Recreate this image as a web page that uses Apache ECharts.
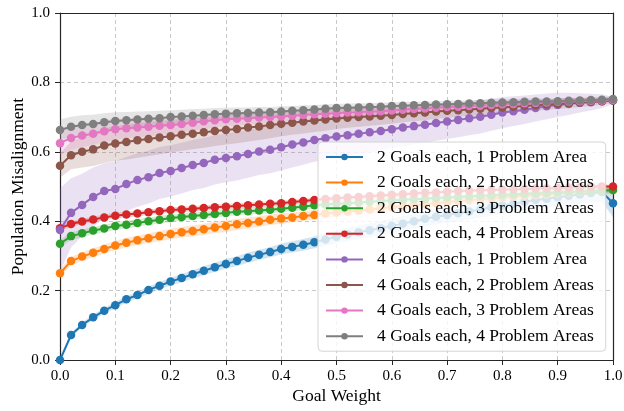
<!DOCTYPE html>
<html>
<head>
<meta charset="utf-8">
<script src="https://cdn.jsdelivr.net/npm/echarts@6/dist/echarts.min.js"></script>
<style>
html,body{margin:0;padding:0;background:#fff;}
#chart{width:624px;height:411px;}
</style>
</head>
<body>
<div id="chart"></div>
<script>
const goalWeights = [0,0.02,0.04,0.06,0.08,0.10,0.12,0.14,0.16,0.18,0.20,0.22,0.24,0.26,0.28,0.30,0.32,0.34,0.36,0.38,0.40,0.42,0.44,0.46,0.48,0.50,0.52,0.54,0.56,0.58,0.60,0.62,0.64,0.66,0.68,0.70,0.72,0.74,0.76,0.78,0.80,0.82,0.84,0.86,0.88,0.90,0.92,0.94,0.96,0.98,1.00];

const seriesNames = [
  "2 Goals each, 1 Problem Area",
  "2 Goals each, 2 Problem Areas",
  "2 Goals each, 3 Problem Areas",
  "2 Goals each, 4 Problem Areas",
  "4 Goals each, 1 Problem Area",
  "4 Goals each, 2 Problem Areas",
  "4 Goals each, 3 Problem Areas",
  "4 Goals each, 4 Problem Areas"
];

const g2pa1 = [0,0.072,0.101,0.123,0.142,0.158,0.175,0.187,0.202,0.214,0.226,0.236,0.247,0.257,0.267,0.277,0.285,0.295,0.303,0.311,0.320,0.326,0.332,0.339,0.347,0.355,0.362,0.368,0.374,0.380,0.386,0.393,0.400,0.407,0.413,0.418,0.423,0.428,0.434,0.440,0.445,0.450,0.456,0.461,0.465,0.469,0.473,0.477,0.481,0.484,0.452];
const g2pa2 = [0.250,0.285,0.298,0.309,0.320,0.330,0.338,0.345,0.351,0.357,0.363,0.368,0.372,0.377,0.382,0.386,0.391,0.395,0.399,0.404,0.408,0.411,0.415,0.418,0.422,0.425,0.428,0.431,0.434,0.437,0.440,0.443,0.446,0.449,0.452,0.455,0.458,0.461,0.463,0.466,0.468,0.471,0.473,0.475,0.477,0.480,0.482,0.484,0.486,0.488,0.490];
const g2pa3 = [0.335,0.357,0.365,0.373,0.379,0.386,0.390,0.395,0.400,0.404,0.409,0.412,0.415,0.418,0.421,0.424,0.427,0.429,0.431,0.433,0.436,0.439,0.442,0.446,0.448,0.450,0.452,0.454,0.456,0.458,0.460,0.462,0.463,0.465,0.467,0.468,0.470,0.471,0.473,0.474,0.476,0.477,0.479,0.480,0.481,0.483,0.484,0.486,0.487,0.488,0.490];
const g2pa4 = [0.380,0.392,0.399,0.405,0.411,0.416,0.419,0.422,0.426,0.429,0.432,0.434,0.436,0.438,0.440,0.442,0.444,0.446,0.448,0.450,0.452,0.455,0.458,0.461,0.464,0.466,0.468,0.470,0.472,0.474,0.476,0.478,0.480,0.482,0.483,0.485,0.487,0.488,0.489,0.490,0.491,0.492,0.493,0.494,0.495,0.496,0.497,0.498,0.499,0.500,0.500];
const g4pa1 = [0.375,0.424,0.447,0.470,0.487,0.493,0.507,0.519,0.527,0.539,0.545,0.553,0.562,0.568,0.577,0.582,0.587,0.594,0.601,0.606,0.613,0.621,0.627,0.634,0.639,0.644,0.648,0.652,0.656,0.660,0.665,0.670,0.674,0.678,0.683,0.687,0.692,0.697,0.701,0.707,0.713,0.717,0.721,0.726,0.731,0.735,0.738,0.741,0.743,0.746,0.748];
const g4pa2 = [0.560,0.590,0.600,0.607,0.618,0.624,0.628,0.633,0.637,0.641,0.645,0.649,0.652,0.656,0.660,0.663,0.666,0.670,0.673,0.677,0.681,0.684,0.687,0.690,0.693,0.696,0.698,0.700,0.702,0.704,0.706,0.709,0.711,0.713,0.716,0.718,0.720,0.722,0.724,0.726,0.728,0.730,0.732,0.734,0.736,0.738,0.740,0.742,0.744,0.746,0.748];
const g4pa3 = [0.625,0.640,0.647,0.652,0.659,0.665,0.668,0.670,0.672,0.675,0.677,0.680,0.684,0.688,0.691,0.694,0.695,0.697,0.699,0.700,0.702,0.704,0.706,0.708,0.710,0.711,0.713,0.714,0.716,0.717,0.719,0.721,0.723,0.725,0.727,0.729,0.730,0.732,0.733,0.735,0.737,0.738,0.740,0.741,0.742,0.744,0.745,0.746,0.747,0.748,0.750];
const g4pa4 = [0.663,0.672,0.677,0.680,0.685,0.689,0.691,0.693,0.695,0.697,0.700,0.702,0.704,0.706,0.708,0.710,0.711,0.712,0.713,0.714,0.716,0.718,0.720,0.722,0.724,0.726,0.727,0.728,0.729,0.730,0.732,0.733,0.734,0.735,0.736,0.737,0.738,0.739,0.740,0.741,0.742,0.743,0.744,0.745,0.745,0.746,0.747,0.748,0.749,0.750,0.752];

// half-width of the shaded band around each line
const s2pa1 = [0.000,0.006,0.007,0.008,0.008,0.009,0.009,0.010,0.010,0.011,0.011,0.012,0.012,0.013,0.013,0.014,0.014,0.015,0.015,0.015,0.016,0.016,0.017,0.017,0.018,0.018,0.019,0.019,0.020,0.020,0.021,0.021,0.022,0.022,0.022,0.023,0.023,0.023,0.024,0.024,0.024,0.025,0.025,0.025,0.026,0.026,0.026,0.027,0.027,0.028,0.040];
const s2pa2 = [0.012,0.012,0.012,0.013,0.013,0.013,0.014,0.014,0.014,0.015,0.015,0.015,0.016,0.016,0.017,0.017,0.016,0.016,0.015,0.015,0.015,0.014,0.014,0.014,0.014,0.013,0.013,0.013,0.013,0.013,0.012,0.012,0.012,0.012,0.012,0.011,0.011,0.011,0.011,0.011,0.010,0.010,0.010,0.010,0.010,0.010,0.010,0.010,0.010,0.010,0.012];
const s2pa3 = [0.010,0.011,0.011,0.011,0.011,0.011,0.011,0.011,0.011,0.011,0.011,0.011,0.011,0.010,0.010,0.010,0.010,0.010,0.010,0.010,0.010,0.010,0.010,0.010,0.010,0.009,0.009,0.009,0.009,0.009,0.009,0.009,0.009,0.009,0.009,0.008,0.008,0.008,0.008,0.008,0.008,0.008,0.008,0.008,0.008,0.008,0.008,0.008,0.008,0.008,0.008];
const s2pa4 = [0.008,0.008,0.008,0.008,0.008,0.008,0.008,0.008,0.008,0.008,0.008,0.008,0.008,0.008,0.008,0.008,0.008,0.008,0.008,0.007,0.007,0.007,0.007,0.007,0.007,0.007,0.007,0.007,0.007,0.007,0.007,0.007,0.007,0.007,0.007,0.006,0.006,0.006,0.006,0.006,0.006,0.006,0.006,0.006,0.006,0.006,0.006,0.006,0.006,0.006,0.006];
const s4pa1 = [0.120,0.100,0.090,0.085,0.080,0.080,0.078,0.077,0.076,0.075,0.074,0.073,0.072,0.072,0.071,0.070,0.070,0.069,0.068,0.068,0.067,0.066,0.064,0.063,0.062,0.060,0.059,0.058,0.057,0.056,0.055,0.054,0.053,0.052,0.051,0.050,0.050,0.049,0.048,0.046,0.045,0.043,0.041,0.039,0.037,0.035,0.032,0.028,0.024,0.020,0.010];
const s4pa2 = [0.035,0.040,0.045,0.048,0.050,0.050,0.050,0.050,0.049,0.048,0.047,0.046,0.045,0.044,0.043,0.042,0.041,0.040,0.039,0.038,0.036,0.035,0.034,0.033,0.032,0.030,0.029,0.028,0.027,0.026,0.025,0.024,0.023,0.022,0.021,0.020,0.019,0.019,0.018,0.018,0.017,0.017,0.016,0.016,0.015,0.015,0.014,0.013,0.012,0.010,0.008];
const s4pa3 = [0.035,0.034,0.033,0.032,0.031,0.030,0.029,0.028,0.027,0.026,0.025,0.024,0.023,0.022,0.021,0.020,0.019,0.018,0.018,0.017,0.017,0.016,0.016,0.015,0.015,0.014,0.014,0.013,0.013,0.013,0.012,0.012,0.012,0.011,0.011,0.011,0.011,0.010,0.010,0.010,0.010,0.010,0.009,0.009,0.009,0.009,0.009,0.009,0.008,0.008,0.008];
const s4pa4 = [0.030,0.029,0.028,0.027,0.026,0.025,0.024,0.023,0.022,0.021,0.020,0.019,0.019,0.018,0.018,0.017,0.017,0.016,0.016,0.015,0.015,0.014,0.014,0.013,0.013,0.012,0.012,0.012,0.011,0.011,0.011,0.011,0.010,0.010,0.010,0.010,0.010,0.009,0.009,0.009,0.009,0.009,0.009,0.009,0.008,0.008,0.008,0.008,0.008,0.008,0.008];

const xTicks = ["0.0","0.1","0.2","0.3","0.4","0.5","0.6","0.7","0.8","0.9","1.0"];
const yTicks = ["0.0","0.2","0.4","0.6","0.8","1.0"];

const means = [g2pa1,g2pa2,g2pa3,g2pa4,g4pa1,g4pa2,g4pa3,g4pa4];
const spreads = [s2pa1,s2pa2,s2pa3,s2pa4,s4pa1,s4pa2,s4pa3,s4pa4];
const colors = ['#1f77b4','#ff7f0e','#2ca02c','#d62728','#9467bd','#8c564b','#e377c2','#7f7f7f'];

const FONT = '"Liberation Serif","Times New Roman",serif';

function bandRenderer(k) {
  return function (params, api) {
    const m = means[k], s = spreads[k];
    const pts = [];
    for (let i = 0; i < goalWeights.length; i++) pts.push(api.coord([goalWeights[i], m[i] + s[i]]));
    for (let i = goalWeights.length - 1; i >= 0; i--) pts.push(api.coord([goalWeights[i], m[i] - s[i]]));
    return {
      type: 'polygon',
      shape: { points: pts },
      style: { fill: colors[k], opacity: 0.2 },
      silent: true
    };
  };
}

const series = [];
means.forEach((m, k) => {
  series.push({
    type: 'line', name: seriesNames[k],
    data: goalWeights.map((x, i) => [x, m[i]]),
    symbol: 'circle', symbolSize: 8.5,
    lineStyle: { width: 2, color: colors[k] },
    itemStyle: { color: colors[k] },
    emphasis: { disabled: true }
  });
  series.push({
    type: 'custom',
    renderItem: bandRenderer(k),
    data: [[0, m[0]]],
    clip: true, silent: true
  });
});

const chart = echarts.init(document.getElementById('chart'), null, { renderer: 'canvas' });
chart.setOption({
  animation: false,
  backgroundColor: '#ffffff',
  textStyle: { fontFamily: FONT },
  tooltip: { show: false },
  grid: {
    left: 60, right: 11, top: 13, bottom: 51,
    show: false, containLabel: false, outerBoundsMode: 'none'
  },
  xAxis: [{
    type: 'value', min: 0, max: 1, interval: 0.1,
    name: 'Goal Weight', nameLocation: 'middle', nameGap: 27, nameMoveOverlap: false,
    nameTextStyle: { fontFamily: FONT, fontSize: 17.5, color: '#000' },
    axisLine: { show: true, lineStyle: { color: '#262626', width: 1.2 } },
    axisTick: { show: true, length: 5, lineStyle: { color: '#262626', width: 1 } },
    axisLabel: { fontFamily: FONT, fontSize: 15, color: '#000', margin: 9,
      formatter: (v) => xTicks[Math.round(v * 10)] },
    splitLine: { show: true, showMinLine: false, showMaxLine: false,
      lineStyle: { color: '#c8c8c8', type: [4, 3], width: 1 } }
  }, {
    type: 'value', min: 0, max: 1, position: 'top',
    axisLine: { show: true, onZero: false, lineStyle: { color: '#262626', width: 1.2 } },
    axisTick: { show: false }, axisLabel: { show: false }, splitLine: { show: false }
  }],
  yAxis: [{
    type: 'value', min: 0, max: 1, interval: 0.2,
    name: 'Population Misalignment', nameLocation: 'middle', nameGap: 33, nameMoveOverlap: false,
    nameTextStyle: { fontFamily: FONT, fontSize: 17.5, color: '#000' },
    axisLine: { show: true, lineStyle: { color: '#262626', width: 1.2 } },
    axisTick: { show: true, length: 5, lineStyle: { color: '#262626', width: 1 } },
    axisLabel: { fontFamily: FONT, fontSize: 15, color: '#000', margin: 10,
      formatter: (v) => yTicks[Math.round(v * 5)] },
    splitLine: { show: true, showMinLine: false, showMaxLine: false,
      lineStyle: { color: '#c8c8c8', type: [4, 3], width: 1 } }
  }, {
    type: 'value', min: 0, max: 1, position: 'right',
    axisLine: { show: true, onZero: false, lineStyle: { color: '#262626', width: 1.2 } },
    axisTick: { show: false }, axisLabel: { show: false }, splitLine: { show: false }
  }],
  legend: {
    data: seriesNames,
    orient: 'vertical',
    left: 318, top: 142,
    padding: [5, 12, 5, 7],
    itemWidth: 37, itemHeight: 8, itemGap: 5.6,
    backgroundColor: 'rgba(255,255,255,0.8)',
    borderColor: '#d4d4d4', borderWidth: 1, borderRadius: 4,
    textStyle: { fontFamily: FONT, fontSize: 17.5, color: '#000', lineHeight: 20, padding: [0, 0, 0, 9] },
    selectedMode: false
  },
  series: series
});
</script>
</body>
</html>
